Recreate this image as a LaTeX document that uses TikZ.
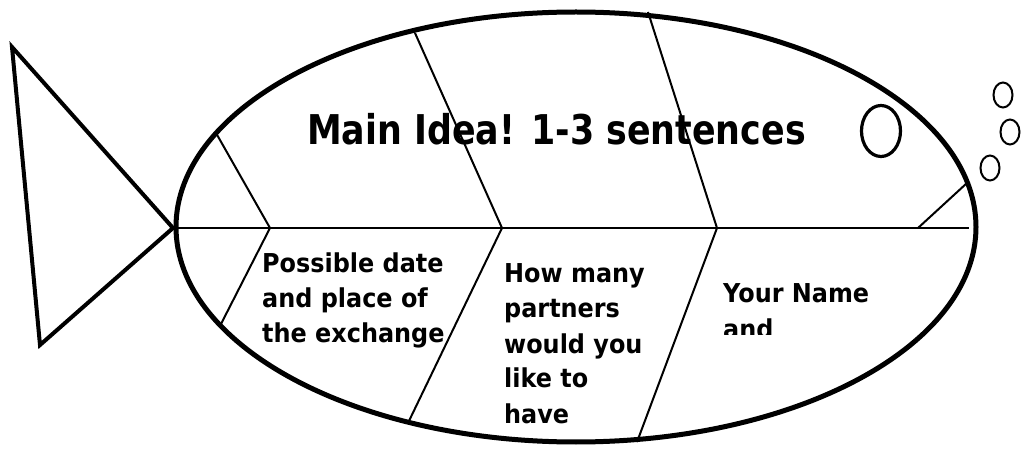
\documentclass[tikz,border=0pt]{standalone}
\usepackage{fontspec}
\newfontfamily\fishfont{DejaVu Sans}[FakeStretch=0.85]
\newfontfamily\fishsmall{DejaVu Sans}[FakeStretch=0.92]
\begin{document}
\begin{tikzpicture}[x=1pt,y=-1pt,
  body/.style={line width=5pt},
  bone/.style={line width=2pt},
  spine/.style={line width=2.6pt},
  finline/.style={line width=4pt,line join=miter},
  bubble/.style={line width=2pt},
  bigtxt/.style={font=\fishfont\bfseries\fontsize{41}{48}\selectfont,inner sep=0pt,anchor=base},
  smalltxt/.style={font=\fishsmall\bfseries\fontsize{26}{34}\selectfont,inner sep=0pt,anchor=base west}]
\useasboundingbox (0,0) rectangle (1021,449);
% tail
\coordinate (t1) at (12,47);
\coordinate (t2) at (173,228);
\coordinate (t3) at (40,345);
\draw[finline] (t1) -- (t2) -- (t3) -- cycle;
% body
\draw[body] (576,227) ellipse [x radius=400, y radius=215];
% spine
\coordinate (sL) at (178,228);
\coordinate (sR) at (969,228);
\draw[spine] (sL) -- (sR);
% joints on spine
\coordinate (j1) at (270,228);
\coordinate (j2) at (502,228);
\coordinate (j3) at (717,228);
\coordinate (j4) at (918,228);
% upper bone ends
\coordinate (u1) at (216,133);
\coordinate (u2) at (415,33);
\coordinate (u3) at (648,12);
\coordinate (u4) at (967,183);
% lower bone ends
\coordinate (l1) at (221,324);
\coordinate (l2) at (408,423);
\coordinate (l3) at (637,442);
\draw[bone] (u1) -- (j1) -- (l1);
\draw[bone] (u2) -- (j2) -- (l2);
\draw[bone] (u3) -- (j3) -- (l3);
\draw[bone] (j4) -- (u4);
% eye and bubbles
\draw[line width=3.2pt] (881,131) ellipse [x radius=19.5, y radius=25.5];
\draw[bubble] (1003,95) ellipse [x radius=9.5, y radius=12.5];
\draw[bubble] (1010,132) ellipse [x radius=9.5, y radius=12.5];
\draw[bubble] (990,168) ellipse [x radius=9.5, y radius=12.5];
% texts
\node[bigtxt] (main) at (556.5,145) {Main Idea! 1-3 sentences};
\node[smalltxt] (a1) at (262,273) {Possible date};
\node[smalltxt] (a2) at (262,307.5) {and place of};
\node[smalltxt] (a3) at (262,342) {the exchange};
\node[smalltxt] (b1) at (504,283) {How many};
\node[smalltxt] (b2) at (504,318) {partners};
\node[smalltxt] (b3) at (504,353) {would you};
\node[smalltxt] (b4) at (504,388) {like to};
\node[smalltxt] (b5) at (504,423) {have};
\node[smalltxt] (c1) at (723,303) {Your Name};
\begin{scope}
\clip (700,310) rectangle (900,335);
\node[smalltxt] (c2) at (723,338) {and};
\end{scope}
\end{tikzpicture}
\end{document}
